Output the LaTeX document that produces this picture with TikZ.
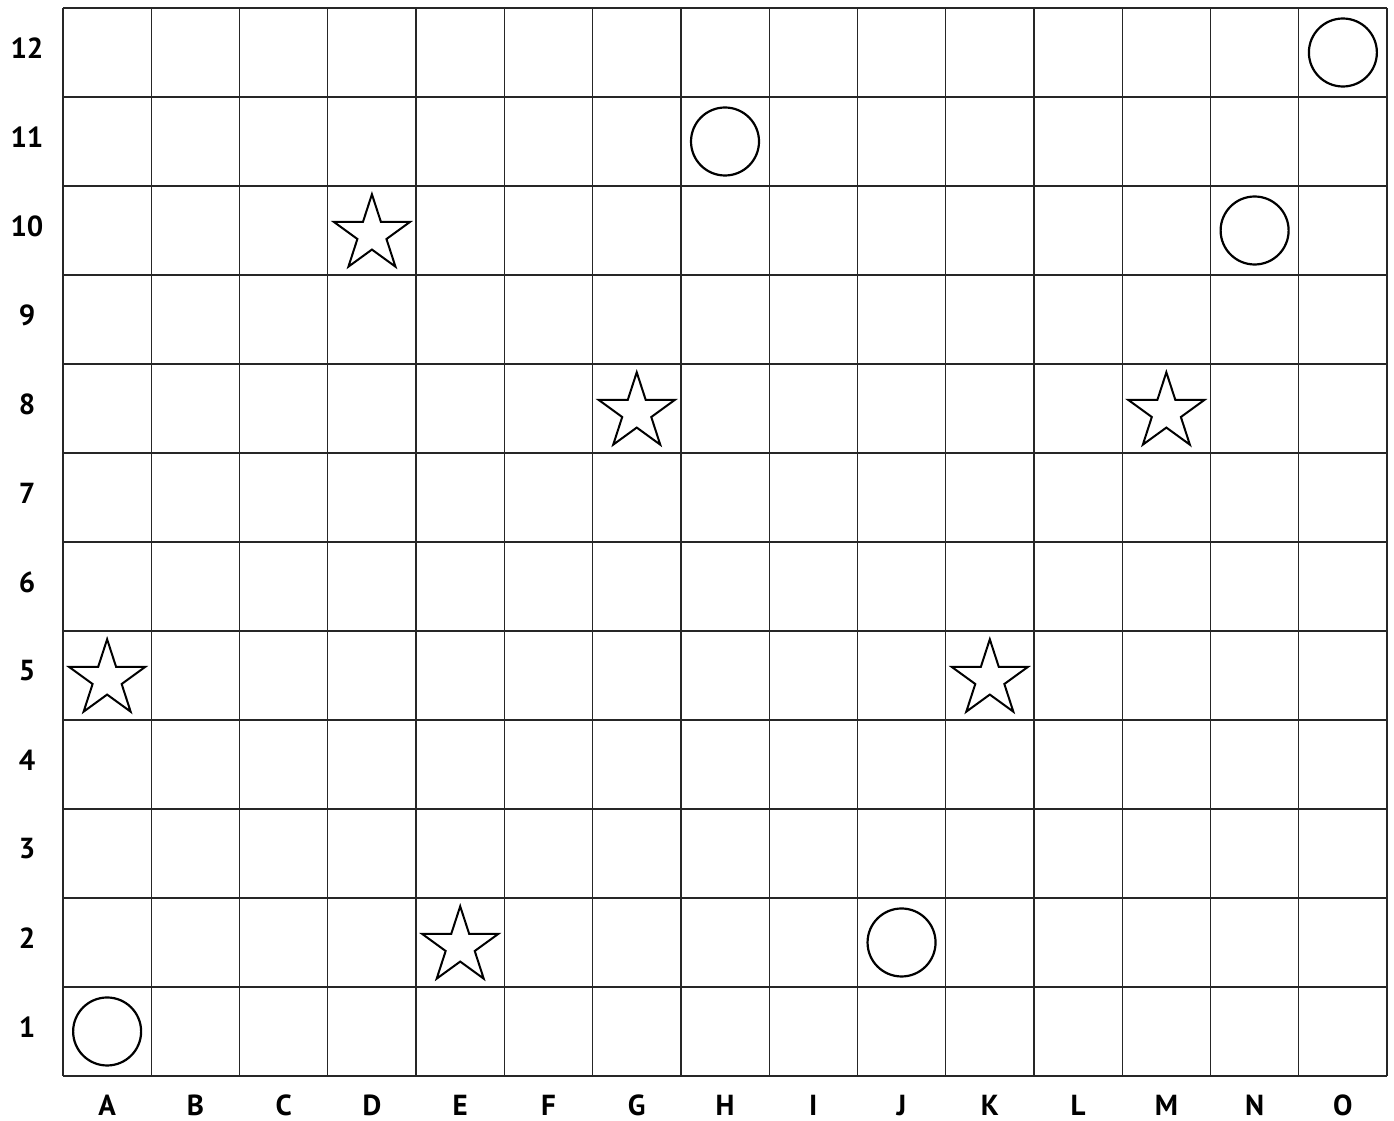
\documentclass[tikz,border=0pt]{standalone}
\usepackage{fontspec}
\setmainfont{PT Sans}
\usepackage{tikz}
\usetikzlibrary{shapes.geometric}
\tikzset{
  gridline/.style={line width=0.65pt, black!85},
  ring/.style={circle, draw, line width=1.1pt, minimum size=34pt, inner sep=0pt},
  starmark/.style={star, star points=5, star point ratio=2.618, draw, line width=1pt, minimum size=40pt, inner sep=0pt, yshift=-1.9pt},
  axislabel/.style={font=\bfseries\fontsize{14.5}{17}\selectfont, inner sep=0pt}
}
\begin{document}
\begin{tikzpicture}[x=44.135pt, y=44.5pt]
    \useasboundingbox (-0.7137,-0.5056) rectangle (15.079,12.090);
    \foreach \i in {0,...,15}
        \draw[gridline] (\i,0) -- (\i,12);
    \foreach \j in {0,...,12}
        \draw[gridline] (0,\j) -- (15,\j);

    % axis labels
    \foreach \l [count=\i] in {A,B,C,D,E,F,G,H,I,J,K,L,M,N,O}
        \node[axislabel, anchor=base] (col\l) at (\i-0.5,-0.44) {\l};
    \foreach \r in {1,...,12}
        \node[axislabel] (row\r) at (-0.408,\r-0.45) {\r};

    % circles
    \foreach \c/\x/\y in {A1/0/0, J2/9/1, N10/13/9, H11/7/10, O12/14/11}
        \node[ring] (ring\c) at (\x+0.5,\y+0.5) {};

    % stars
    \foreach \c/\x/\y in {D10/3/9, G8/6/7, M8/12/7, A5/0/4, K5/10/4, E2/4/1}
        \node[starmark] (star\c) at (\x+0.5,\y+0.5) {};
\end{tikzpicture}
\end{document}
